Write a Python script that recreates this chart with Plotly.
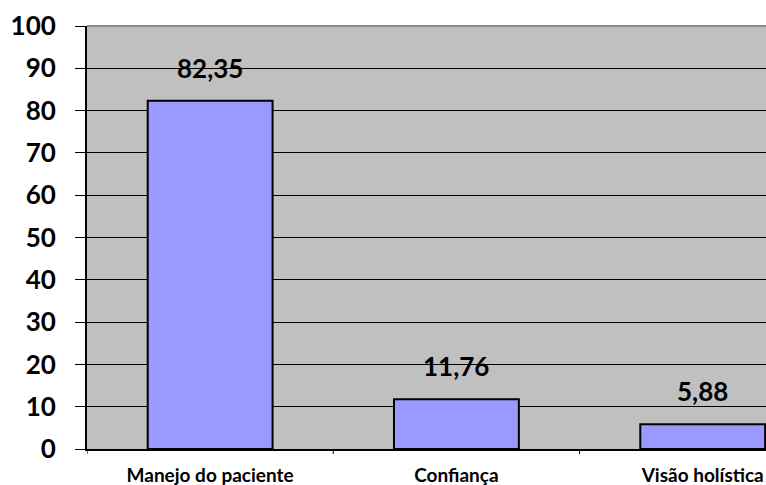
import plotly.graph_objects as go

categories = ["Manejo do paciente", "Confiança", "Visão holística"]
values = [82.35, 11.76, 5.88]
value_labels = ["82,35", "11,76", "5,88"]
y_ticks = [0, 10, 20, 30, 40, 50, 60, 70, 80, 90, 100]

FONT = "Lato"

fig = go.Figure()
fig.add_trace(go.Bar(
    x=list(range(len(categories))),
    y=values,
    width=0.507,
    marker=dict(color="#9999FF", line=dict(color="black", width=2)),
    hoverinfo="skip",
))

for i, (v, lab) in enumerate(zip(values, value_labels)):
    fig.add_annotation(x=i, y=v, text="<b>%s</b>" % lab, showarrow=False,
                       yanchor="bottom", yshift=15,
                       font=dict(family=FONT, size=26, color="black"))

fig.update_layout(
    width=766, height=485,
    margin=dict(l=87, r=0, t=26, b=36),
    paper_bgcolor="white",
    plot_bgcolor="#C0C0C0",
    showlegend=False,
    font=dict(family=FONT, color="black"),
    shapes=[dict(type="line", xref="paper", yref="paper", x0=0, x1=1, y0=1, y1=1,
                 line=dict(color="#8a8a8a", width=2))],
)

fig.update_xaxes(
    range=[-0.5, 2.257],
    tickmode="array",
    tickvals=list(range(len(categories))),
    ticktext=["<b>%s</b>" % c for c in categories],
    tickfont=dict(family=FONT, size=19, color="black"),
    showgrid=False,
    showline=True, linecolor="black", linewidth=2,
    ticks="", zeroline=False,
    ticklabelstandoff=8,
)

# boundary tick marks on x axis
for b in [-0.5, 0.5, 1.5]:
    fig.add_shape(type="line", xref="x", yref="paper", x0=b, x1=b, y0=0, y1=-0.012,
                  line=dict(color="black", width=1))

fig.update_yaxes(
    range=[0, 100],
    tickmode="array",
    tickvals=y_ticks,
    ticktext=["<b>%d</b>" % t for t in y_ticks],
    tickfont=dict(family=FONT, size=26, color="black"),
    showgrid=True, gridcolor="black", gridwidth=1,
    showline=True, linecolor="black", linewidth=2,
    ticks="outside", ticklen=10, tickcolor="black", tickwidth=1,
    ticklabelstandoff=14,
    zeroline=False,
)

fig.write_html("out.html")
